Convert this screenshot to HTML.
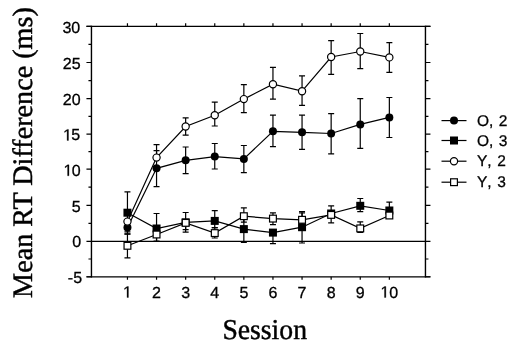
<!DOCTYPE html>
<html><head><meta charset="utf-8"><style>
html,body{margin:0;padding:0;background:#fff;}
body{width:515px;height:349px;overflow:hidden;}
svg{display:block;will-change:transform;}
.s{font-kerning:none;font-family:"Liberation Sans",sans-serif;fill:#000;stroke:#000;stroke-width:0.3px;text-rendering:geometricPrecision;}
.g1{fill:#000;stroke:#000;stroke-width:38.4;}
.r{font-family:"Liberation Serif",serif;fill:#000;stroke:#000;stroke-width:0.45px;text-rendering:geometricPrecision;}
</style></head><body>
<svg width="515" height="349" viewBox="0 0 515 349">
<g stroke="#000" stroke-width="1.2" fill="none" shape-rendering="auto"><path d="M86.45 26.3H430.45M86.45 276.8H430.45" stroke-width="1.3"/><path d="M91.45 25.7V277.4M425.45 25.7V277.4" stroke-width="1.4"/><path d="M91.45 241.4H425.45" stroke-width="1.1"/><path d="M86.45 276.75H91.45M425.45 276.75H430.45M88.45 259.02H91.45M425.45 259.02H428.45M86.45 241.3H91.45M425.45 241.3H430.45M88.45 223.32H91.45M425.45 223.32H428.45M86.45 205.34H91.45M425.45 205.34H430.45M88.45 187.19H91.45M425.45 187.19H428.45M86.45 169.05H91.45M425.45 169.05H430.45M88.45 151.59H91.45M425.45 151.59H428.45M86.45 134.14H91.45M425.45 134.14H430.45M88.45 116.37H91.45M425.45 116.37H428.45M86.45 98.6H91.45M425.45 98.6H430.45M88.45 80.55H91.45M425.45 80.55H428.45M86.45 62.49H91.45M425.45 62.49H430.45M88.45 44.4H91.45M425.45 44.4H428.45M86.45 26.3H91.45M425.45 26.3H430.45M127.45 276.8V279.8M127.45 26.3V23.3M156.55 276.8V279.8M156.55 26.3V23.3M185.65 276.8V279.8M185.65 26.3V23.3M214.75 276.8V279.8M214.75 26.3V23.3M243.85 276.8V279.8M243.85 26.3V23.3M272.95 276.8V279.8M272.95 26.3V23.3M302.05 276.8V279.8M302.05 26.3V23.3M331.15 276.8V279.8M331.15 26.3V23.3M360.25 276.8V279.8M360.25 26.3V23.3M389.35 276.8V279.8M389.35 26.3V23.3"/></g><polyline points="127.45,227.4 156.55,168.3 185.65,160.3 214.75,156.6 243.85,158.9 272.95,131.3 302.05,132.3 331.15,133.5 360.25,124.4 389.35,117.4" fill="none" stroke="#000" stroke-width="1.2"/><path d="M156.55 168.3V150.7M153.55 150.7H159.55M156.55 168.3V186.6M153.55 186.6H159.55M185.65 160.3V147M182.65 147H188.65M185.65 160.3V173.7M182.65 173.7H188.65M214.75 156.6V143.5M211.75 143.5H217.75M214.75 156.6V169M211.75 169H217.75M243.85 158.9V145.5M240.85 145.5H246.85M243.85 158.9V172.6M240.85 172.6H246.85M272.95 131.3V115.1M269.95 115.1H275.95M272.95 131.3V146.7M269.95 146.7H275.95M302.05 132.3V115.1M299.05 115.1H305.05M302.05 132.3V149.3M299.05 149.3H305.05M331.15 133.5V113.6M328.15 113.6H334.15M331.15 133.5V153.9M328.15 153.9H334.15M360.25 124.4V98.6M357.25 98.6H363.25M360.25 124.4V148.4M357.25 148.4H363.25M389.35 117.4V97.5M386.35 97.5H392.35M389.35 117.4V137.5M386.35 137.5H392.35" fill="none" stroke="#000" stroke-width="1.2"/><circle cx="127.45" cy="227.4" r="4" fill="#000"/><circle cx="156.55" cy="168.3" r="4" fill="#000"/><circle cx="185.65" cy="160.3" r="4" fill="#000"/><circle cx="214.75" cy="156.6" r="4" fill="#000"/><circle cx="243.85" cy="158.9" r="4" fill="#000"/><circle cx="272.95" cy="131.3" r="4" fill="#000"/><circle cx="302.05" cy="132.3" r="4" fill="#000"/><circle cx="331.15" cy="133.5" r="4" fill="#000"/><circle cx="360.25" cy="124.4" r="4" fill="#000"/><circle cx="389.35" cy="117.4" r="4" fill="#000"/><polyline points="127.45,212.7 156.55,228.5 185.65,222.3 214.75,220.9 243.85,229.1 272.95,232.6 302.05,227.2 331.15,213.5 360.25,205.8 389.35,210.5" fill="none" stroke="#000" stroke-width="1.2"/><path d="M127.45 212.7V191.9M124.45 191.9H130.45M127.45 212.7V234.2M124.45 234.2H130.45M156.55 228.5V213.5M153.55 213.5H159.55M156.55 228.5V241M153.55 241H159.55M185.65 222.3V229.6M182.65 229.6H188.65M214.75 220.9V210.7M211.75 210.7H217.75M214.75 220.9V227.5M211.75 227.5H217.75M243.85 229.1V217M240.85 217H246.85M243.85 229.1V242.3M240.85 242.3H246.85M272.95 232.6V243.7M269.95 243.7H275.95M302.05 227.2V211.5M299.05 211.5H305.05M302.05 227.2V243M299.05 243H305.05M360.25 205.8V198.5M357.25 198.5H363.25M360.25 205.8V211.7M357.25 211.7H363.25M389.35 210.5V202.2M386.35 202.2H392.35" fill="none" stroke="#000" stroke-width="1.2"/><rect x="123.45" y="208.7" width="8" height="8" fill="#000"/><rect x="152.55" y="224.5" width="8" height="8" fill="#000"/><rect x="181.65" y="218.3" width="8" height="8" fill="#000"/><rect x="210.75" y="216.9" width="8" height="8" fill="#000"/><rect x="239.85" y="225.1" width="8" height="8" fill="#000"/><rect x="268.95" y="228.6" width="8" height="8" fill="#000"/><rect x="298.05" y="223.2" width="8" height="8" fill="#000"/><rect x="327.15" y="209.5" width="8" height="8" fill="#000"/><rect x="356.25" y="201.8" width="8" height="8" fill="#000"/><rect x="385.35" y="206.5" width="8" height="8" fill="#000"/><polyline points="127.45,221.6 156.55,157.6 185.65,126.5 214.75,115.3 243.85,99.1 272.95,84.2 302.05,91.2 331.15,57 360.25,51.5 389.35,57.4" fill="none" stroke="#000" stroke-width="1.2"/><path d="M127.45 221.6V231.9M124.45 231.9H130.45M156.55 157.6V144.6M153.55 144.6H159.55M185.65 126.5V117.9M182.65 117.9H188.65M185.65 126.5V135.2M182.65 135.2H188.65M214.75 115.3V102.2M211.75 102.2H217.75M214.75 115.3V126M211.75 126H217.75M243.85 99.1V84.7M240.85 84.7H246.85M243.85 99.1V112.6M240.85 112.6H246.85M272.95 84.2V67.4M269.95 67.4H275.95M272.95 84.2V99.2M269.95 99.2H275.95M302.05 91.2V75.9M299.05 75.9H305.05M302.05 91.2V105.4M299.05 105.4H305.05M331.15 57V40.6M328.15 40.6H334.15M331.15 57V74.3M328.15 74.3H334.15M360.25 51.5V33.5M357.25 33.5H363.25M360.25 51.5V68.7M357.25 68.7H363.25M389.35 57.4V42.7M386.35 42.7H392.35M389.35 57.4V72.4M386.35 72.4H392.35" fill="none" stroke="#000" stroke-width="1.2"/><circle cx="127.45" cy="221.6" r="3.6" fill="#fff" stroke="#000" stroke-width="1.2"/><circle cx="156.55" cy="157.6" r="3.6" fill="#fff" stroke="#000" stroke-width="1.2"/><circle cx="185.65" cy="126.5" r="3.6" fill="#fff" stroke="#000" stroke-width="1.2"/><circle cx="214.75" cy="115.3" r="3.6" fill="#fff" stroke="#000" stroke-width="1.2"/><circle cx="243.85" cy="99.1" r="3.6" fill="#fff" stroke="#000" stroke-width="1.2"/><circle cx="272.95" cy="84.2" r="3.6" fill="#fff" stroke="#000" stroke-width="1.2"/><circle cx="302.05" cy="91.2" r="3.6" fill="#fff" stroke="#000" stroke-width="1.2"/><circle cx="331.15" cy="57" r="3.6" fill="#fff" stroke="#000" stroke-width="1.2"/><circle cx="360.25" cy="51.5" r="3.6" fill="#fff" stroke="#000" stroke-width="1.2"/><circle cx="389.35" cy="57.4" r="3.6" fill="#fff" stroke="#000" stroke-width="1.2"/><polyline points="127.45,245.8 156.55,234.5 185.65,222.85 214.75,233.1 243.85,216.2 272.95,218.6 302.05,219.8 331.15,214.9 360.25,228.4 389.35,215.5" fill="none" stroke="#000" stroke-width="1.2"/><path d="M127.45 245.8V233.8M124.45 233.8H130.45M127.45 245.8V257.8M124.45 257.8H130.45M156.55 234.5V226M153.55 226H159.55M156.55 234.5V241.5M153.55 241.5H159.55M185.65 222.85V212.5M182.65 212.5H188.65M185.65 222.85V232.1M182.65 232.1H188.65M214.75 233.1V227.9M211.75 227.9H217.75M214.75 233.1V238M211.75 238H217.75M243.85 216.2V207.9M240.85 207.9H246.85M243.85 216.2V222.2M240.85 222.2H246.85M272.95 218.6V212.9M269.95 212.9H275.95M272.95 218.6V224.6M269.95 224.6H275.95M302.05 219.8V212.9M299.05 212.9H305.05M302.05 219.8V226.4M299.05 226.4H305.05M331.15 214.9V205.8M328.15 205.8H334.15M331.15 214.9V222.9M328.15 222.9H334.15M360.25 228.4V221.8M357.25 221.8H363.25M360.25 228.4V232.4M357.25 232.4H363.25" fill="none" stroke="#000" stroke-width="1.2"/><rect x="124.05" y="242.4" width="6.8" height="6.8" fill="#fff" stroke="#000" stroke-width="1.2"/><rect x="153.15" y="231.1" width="6.8" height="6.8" fill="#fff" stroke="#000" stroke-width="1.2"/><rect x="182.25" y="219.45" width="6.8" height="6.8" fill="#fff" stroke="#000" stroke-width="1.2"/><rect x="211.35" y="229.7" width="6.8" height="6.8" fill="#fff" stroke="#000" stroke-width="1.2"/><rect x="240.45" y="212.8" width="6.8" height="6.8" fill="#fff" stroke="#000" stroke-width="1.2"/><rect x="269.55" y="215.2" width="6.8" height="6.8" fill="#fff" stroke="#000" stroke-width="1.2"/><rect x="298.65" y="216.4" width="6.8" height="6.8" fill="#fff" stroke="#000" stroke-width="1.2"/><rect x="327.75" y="211.5" width="6.8" height="6.8" fill="#fff" stroke="#000" stroke-width="1.2"/><rect x="356.85" y="225" width="6.8" height="6.8" fill="#fff" stroke="#000" stroke-width="1.2"/><rect x="385.95" y="212.1" width="6.8" height="6.8" fill="#fff" stroke="#000" stroke-width="1.2"/><path d="M441.5 120.6H466.5" stroke="#000" stroke-width="1.2"/><circle cx="454" cy="120.6" r="4" fill="#000"/><text x="477" y="125.6" class="s" font-size="15.5">O,</text><text x="498.7" y="125.6" class="s" font-size="15.5">2</text><path d="M441.5 140.5H466.5" stroke="#000" stroke-width="1.2"/><rect x="450" y="136.5" width="8" height="8" fill="#000"/><text x="477" y="145.5" class="s" font-size="15.5">O,</text><text x="498.7" y="145.5" class="s" font-size="15.5">3</text><path d="M441.5 161.2H466.5" stroke="#000" stroke-width="1.2"/><circle cx="454" cy="161.2" r="3.6" fill="#fff" stroke="#000" stroke-width="1.2"/><text x="477" y="166.2" class="s" font-size="15.5">Y,</text><text x="497.2" y="166.2" class="s" font-size="15.5">2</text><path d="M441.5 182.2H466.5" stroke="#000" stroke-width="1.2"/><rect x="450.6" y="178.8" width="6.8" height="6.8" fill="#fff" stroke="#000" stroke-width="1.2"/><text x="477" y="187.2" class="s" font-size="15.5">Y,</text><text x="497.2" y="187.2" class="s" font-size="15.5">3</text><text x="62.45" y="32.78" class="s" font-size="16">30</text><text x="62.75" y="69.03" class="s" font-size="16">25</text><text x="62.75" y="105.48" class="s" font-size="16">20</text><path class="g1" transform="translate(63.05,140.43) scale(0.007812,-0.007812)" d="M515 0L515 1237L197 1010L197 1180L530 1409L696 1409L696 0Z"/><text x="71.25" y="140.43" class="s" font-size="16">5</text><path class="g1" transform="translate(63.55,175.78) scale(0.007812,-0.007812)" d="M515 0L515 1237L197 1010L197 1180L530 1409L696 1409L696 0Z"/><text x="71.75" y="175.78" class="s" font-size="16">0</text><text x="71.75" y="211.63" class="s" font-size="16">5</text><text x="72.15" y="247.33" class="s" font-size="16">0</text><text x="67.82" y="283.48" class="s" font-size="16">-5</text><path class="g1" transform="translate(123,297.5) scale(0.007812,-0.007812)" d="M515 0L515 1237L197 1010L197 1180L530 1409L696 1409L696 0Z"/><text x="152.1" y="297.5" class="s" font-size="16">2</text><text x="181.2" y="297.5" class="s" font-size="16">3</text><text x="210.3" y="297.5" class="s" font-size="16">4</text><text x="239.4" y="297.5" class="s" font-size="16">5</text><text x="268.5" y="297.5" class="s" font-size="16">6</text><text x="297.6" y="297.5" class="s" font-size="16">7</text><text x="326.7" y="297.5" class="s" font-size="16">8</text><text x="355.8" y="297.5" class="s" font-size="16">9</text><path class="g1" transform="translate(380.45,297.5) scale(0.007812,-0.007812)" d="M515 0L515 1237L197 1010L197 1180L530 1409L696 1409L696 0Z"/><text x="389.35" y="297.5" class="s" font-size="16">0</text><text transform="translate(264.7,339) scale(1,1.035)" class="r" font-size="27.7" text-anchor="middle">Session</text><text transform="translate(31.5,152.5) rotate(-90)" x="0" y="0" class="r" font-size="28.2" text-anchor="middle">Mean RT Difference (ms)</text>
</svg>
</body></html>
